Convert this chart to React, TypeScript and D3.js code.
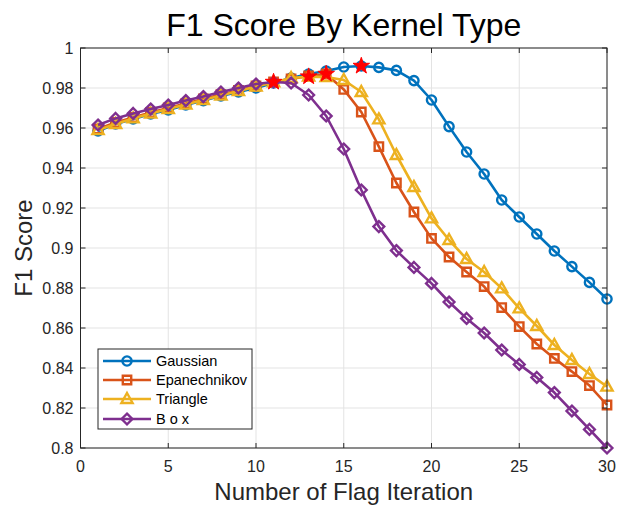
import React from "react";
import * as d3 from "d3";

const iterations = d3.range(1, 31);
const seriesNames = ["Gaussian", "Epanechnikov", "Triangle", "B o x"];
const gaussian = [0.9585, 0.962, 0.9645, 0.967, 0.969, 0.9715, 0.9737, 0.976, 0.978, 0.980, 0.9825, 0.985, 0.987, 0.9885, 0.9905, 0.991, 0.9903, 0.9888, 0.9837, 0.974, 0.9607, 0.948, 0.937, 0.924, 0.9155, 0.907, 0.8985, 0.8907, 0.8828, 0.8745];
const epanechnikov = [0.9595, 0.9628, 0.9653, 0.9678, 0.970, 0.9722, 0.9745, 0.9767, 0.9788, 0.981, 0.983, 0.9845, 0.986, 0.987, 0.9793, 0.968, 0.9507, 0.9325, 0.918, 0.9048, 0.8955, 0.888, 0.8807, 0.8702, 0.8607, 0.852, 0.8448, 0.8382, 0.8312, 0.8215];
const triangle = [0.959, 0.962, 0.9648, 0.9672, 0.9695, 0.9717, 0.974, 0.9762, 0.9785, 0.9807, 0.9828, 0.985, 0.9857, 0.9855, 0.984, 0.978, 0.9643, 0.9465, 0.9305, 0.9148, 0.904, 0.8945, 0.888, 0.8798, 0.8698, 0.861, 0.8515, 0.844, 0.837, 0.8307];
const box = [0.9615, 0.9648, 0.9673, 0.9695, 0.9715, 0.9737, 0.9757, 0.978, 0.980, 0.982, 0.983, 0.9825, 0.9765, 0.966, 0.9495, 0.929, 0.9107, 0.8987, 0.8903, 0.8823, 0.873, 0.8648, 0.8575, 0.849, 0.8418, 0.8353, 0.8277, 0.8185, 0.8093, 0.800];
const xTicks = [0, 5, 10, 15, 20, 25, 30];
const yTicks = [0.8, 0.82, 0.84, 0.86, 0.88, 0.9, 0.92, 0.94, 0.96, 0.98, 1];
const colors = ["#0072BD", "#D95319", "#EDB120", "#7E2F8E"];
const markerTypes = ["circle", "square", "triangle", "diamond"];

const W = 628, H = 508;
const M = { left: 80.5, right: 607, top: 48, bottom: 448 };
const FONT = "'Liberation Sans', Arial, Helvetica, sans-serif";
const AX = "#262626";

function markerPath(type: string): string {
  const p = d3.path();
  if (type === "circle") {
    p.arc(0, 0, 4.6, 0, Math.PI * 2);
  } else if (type === "square") {
    p.rect(-4.2, -4.2, 8.4, 8.4);
  } else if (type === "triangle") {
    p.moveTo(0, -6);
    p.lineTo(5.6, 4);
    p.lineTo(-5.6, 4);
    p.closePath();
  } else {
    p.moveTo(0, -5.4);
    p.lineTo(5.4, 0);
    p.lineTo(0, 5.4);
    p.lineTo(-5.4, 0);
    p.closePath();
  }
  return p.toString();
}

export default function App() {
  const x = d3.scaleLinear().domain([0, 30]).range([M.left, M.right]);
  const y = d3.scaleLinear().domain([0.8, 1]).range([M.bottom, M.top]);
  const all = [gaussian, epanechnikov, triangle, box];
  const line = d3
    .line<number>()
    .x((_, i) => x(iterations[i]))
    .y((d) => y(d));
  const starPath = d3.symbol().type(d3.symbolStar).size(85)() as string;
  const stars = all.map((s) => {
    const i = d3.maxIndex(s);
    return { xv: iterations[i], yv: s[i] };
  });
  const legend = { x: 98, y: 349, w: 154, h: 80 };
  const legendRowY = [361, 380, 399, 419];

  return (
    <svg width={W} height={H} style={{ position: "absolute", left: 0, top: 0, background: "#fff" }} fontFamily={FONT}>
      <rect x={0} y={0} width={W} height={H} fill="#fff" />
      <g stroke="#e3e3e3" strokeWidth={1}>
        {xTicks.map((t) => (
          <line key={"gx" + t} x1={x(t)} x2={x(t)} y1={M.top} y2={M.bottom} />
        ))}
        {yTicks.map((t) => (
          <line key={"gy" + t} x1={M.left} x2={M.right} y1={y(t)} y2={y(t)} />
        ))}
      </g>
      {all.map((s, k) => (
        <g key={"s" + k}>
          <path d={line(s) as string} fill="none" stroke={colors[k]} strokeWidth={2.6} strokeLinejoin="round" />
          {s.map((v, i) => (
            <path
              key={i}
              d={markerPath(markerTypes[k])}
              transform={`translate(${x(iterations[i])},${y(v)})`}
              fill="none"
              stroke={colors[k]}
              strokeWidth={2.4}
            />
          ))}
        </g>
      ))}
      {stars.map((s, k) => (
        <path key={"st" + k} d={starPath} transform={`translate(${x(s.xv)},${y(s.yv)})`} fill="#ff0000" stroke="#ff0000" strokeWidth={1} />
      ))}
      <rect x={M.left} y={M.top} width={M.right - M.left} height={M.bottom - M.top} fill="none" stroke={AX} strokeWidth={1} />
      <g stroke={AX} strokeWidth={1}>
        {xTicks.map((t) => (
          <g key={"tx" + t}>
            <line x1={x(t)} x2={x(t)} y1={M.bottom} y2={M.bottom - 5} />
            <line x1={x(t)} x2={x(t)} y1={M.top} y2={M.top + 5} />
          </g>
        ))}
        {yTicks.map((t) => (
          <g key={"ty" + t}>
            <line x1={M.left} x2={M.left + 5} y1={y(t)} y2={y(t)} />
            <line x1={M.right} x2={M.right - 5} y1={y(t)} y2={y(t)} />
          </g>
        ))}
      </g>
      <g fill={AX} fontSize={16}>
        {xTicks.map((t) => (
          <text key={"lx" + t} x={x(t)} y={M.bottom + 24} textAnchor="middle">
            {d3.format("d")(t)}
          </text>
        ))}
        {yTicks.map((t) => (
          <text key={"ly" + t} x={M.left - 7} y={y(t) + 6} textAnchor="end">
            {t === 1 ? "1" : String(+t.toFixed(2))}
          </text>
        ))}
      </g>
      <text x={(M.left + M.right) / 2} y={36} textAnchor="middle" fontSize={32} fill="#000">
        F1 Score By Kernel Type
      </text>
      <text x={(M.left + M.right) / 2} y={500} textAnchor="middle" fontSize={24} fill={AX}>
        Number of Flag Iteration
      </text>
      <text transform={`translate(32,${(M.top + M.bottom) / 2}) rotate(-90)`} textAnchor="middle" fontSize={24} fill={AX}>
        F1 Score
      </text>
      <rect x={legend.x} y={legend.y} width={legend.w} height={legend.h} fill="#fff" stroke={AX} strokeWidth={1} />
      {seriesNames.map((n, k) => (
        <g key={"lg" + k}>
          <line x1={103} x2={151} y1={legendRowY[k]} y2={legendRowY[k]} stroke={colors[k]} strokeWidth={2.6} />
          <path d={markerPath(markerTypes[k])} transform={`translate(127,${legendRowY[k]})`} fill="none" stroke={colors[k]} strokeWidth={2.4} />
          <text x={156} y={legendRowY[k] + 5} fontSize={14.5} fill="#000">
            {n}
          </text>
        </g>
      ))}
    </svg>
  );
}
